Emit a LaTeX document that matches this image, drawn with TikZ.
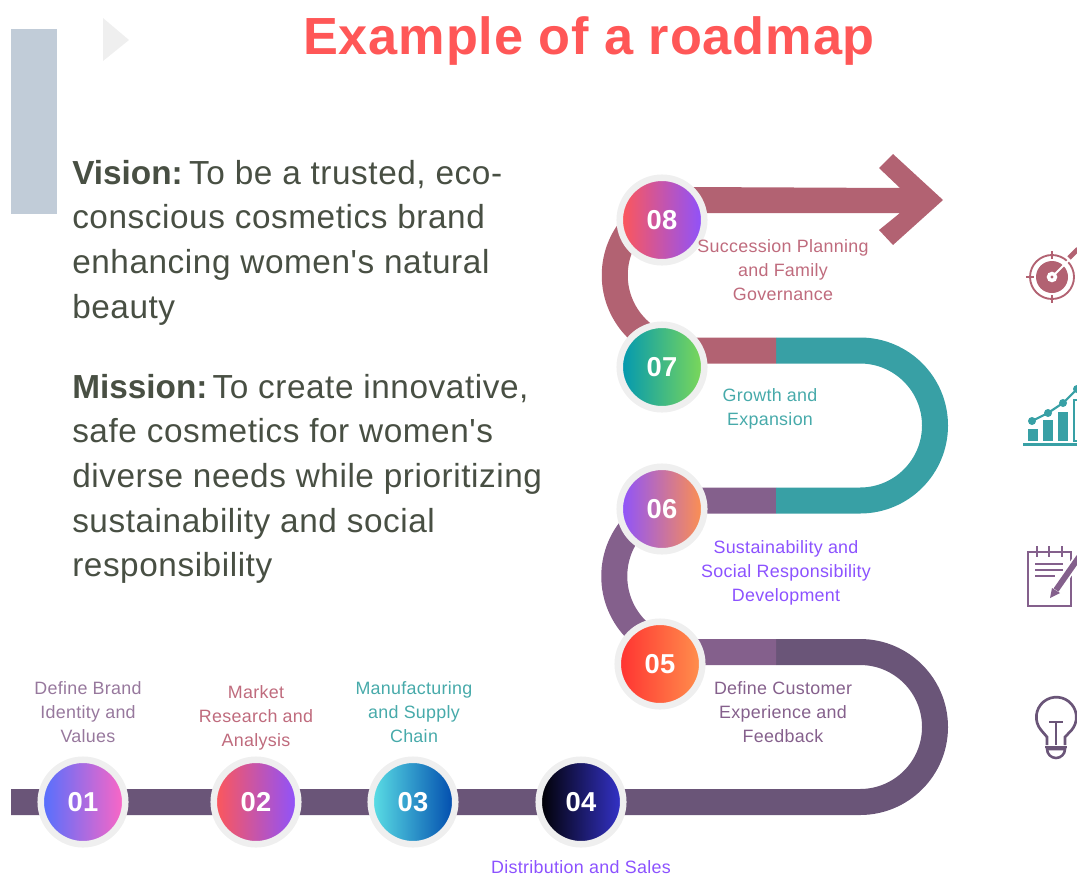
\documentclass[tikz,border=0pt]{standalone}
\usepackage{fontspec}
\setmainfont[LetterSpace=1.7,Mapping=]{Liberation Sans}
\usepackage{tikz}
\usetikzlibrary{shapes.geometric, arrows, positioning, fit}
\definecolor{railplum}{HTML}{6A5578}
\definecolor{railmauve}{HTML}{84608C}
\definecolor{railrose}{HTML}{B26272}
\definecolor{railteal}{HTML}{38A0A5}
\definecolor{haloGray}{HTML}{EFEFEF}
\definecolor{bodyInk}{HTML}{484F43}
\definecolor{titleRed}{HTML}{FF5757}
\definecolor{barSlate}{HTML}{C1CCD8}
\definecolor{labelPurple}{HTML}{8C52FF}
\definecolor{labelPlum}{HTML}{85608C}
\definecolor{labelRose}{HTML}{BF6B7D}
\definecolor{labelTeal}{HTML}{47AAAA}
\definecolor{dotBlue}{HTML}{5170FF}
\definecolor{dotPink}{HTML}{FF66C4}
\definecolor{dotCyan}{HTML}{5CE1E6}
\definecolor{dotNavy}{HTML}{004AAD}
\definecolor{dotIndigo}{HTML}{3533CD}
\definecolor{dotRed}{HTML}{FF3131}
\definecolor{dotOrange}{HTML}{FF914D}
\definecolor{dotTeal}{HTML}{0097B2}
\definecolor{dotGreen}{HTML}{7ED957}
\newcommand{\leadword}[1]{\textbf{\addfontfeature{LetterSpace=0}#1}}
\tikzstyle{stepdot}   = [circle, minimum size=63.4pt, inner sep=0pt, draw=haloGray, line width=4.9pt, text=white, font=\fontsize{20.5}{20.5}\selectfont\bfseries]
\tikzstyle{steplabel} = [inner sep=0pt, align=center, font=\fontsize{13.4}{18}\selectfont]
\tikzstyle{bodytext}  = [inner sep=0pt, anchor=north west, align=left, text=bodyInk, font=\fontsize{25}{33.4}\selectfont]
\tikzstyle{rail}      = [line width=19.5pt]
\tikzstyle{icon}      = [line width=1.9pt]
\begin{document}
\begin{tikzpicture}[x=0.75pt, y=-0.75pt]
    \useasboundingbox (0,0) rectangle (1077,875);
    \clip (0,0) rectangle (1077,875);

    \fill [barSlate] (11,29) rectangle (57,214);
    \fill [haloGray] (103,18) -- (129,40) -- (103,61) -- cycle;
    \node (title) at (589,41) [text=titleRed, font=\fontsize{39.2}{39}\selectfont\bfseries] {Example of a roadmap};
    \node (vision) at (72,160) [bodytext] {\leadword{Vision:} \kern-5pt To be a trusted, eco-\\conscious cosmetics brand\\enhancing women's natural\\beauty};
    \node (mission) at (72,374) [bodytext] {\leadword{Mission:} \kern-6pt To create innovative,\\safe cosmetics for women's\\diverse needs while prioritizing\\sustainability and social\\responsibility};

    \coordinate (railstart) at (11,802);
    \coordinate (turn1) at (860,802);
    \coordinate (split5) at (776,652);
    \coordinate (turn3) at (690,652);
    \coordinate (split6) at (776,500.5);
    \coordinate (turn5) at (860,500.5);
    \coordinate (split7) at (776,350.5);
    \coordinate (turn7) at (690,350.5);

    \draw [rail, railplum] (railstart) -- (turn1) arc[start angle=-90, end angle=90, radius=56.25pt] -- (split5);
    \draw [rail, railmauve] (split5) -- (turn3) arc[start angle=270, end angle=90, radius=56.81pt] -- (split6);
    \draw [rail, railteal] (split6) -- (turn5) arc[start angle=-90, end angle=90, radius=56.25pt] -- (split7);
    \draw [rail, railrose] (split7) -- (turn7) arc[start angle=270, end angle=90, radius=56.44pt];
    \fill [railrose] (690,187) -- (900,188) -- (879,168) -- (893,154) -- (943,200) -- (893,245) -- (879,230) -- (900,213) -- (690,213) -- cycle;

    \node (s1) at (83,802)  [stepdot, left color=dotBlue, right color=dotPink] {01};
    \node (s2) at (256,802) [stepdot, left color=titleRed, right color=labelPurple] {02};
    \node (s3) at (413,802) [stepdot, left color=dotCyan, right color=dotNavy] {03};
    \node (s4) at (581,802) [stepdot, left color=black, right color=dotIndigo] {04};
    \node (s5) at (660,664) [stepdot, left color=dotRed, right color=dotOrange] {05};
    \node (s6) at (662,509) [stepdot, left color=labelPurple, right color=dotOrange] {06};
    \node (s7) at (662,367) [stepdot, left color=dotTeal, right color=dotGreen] {07};
    \node (s8) at (662,220) [stepdot, left color=titleRed, right color=labelPurple] {08};

    \node (l1) at (88,712)  [steplabel, text=labelPlum!85!white] {Define Brand\\Identity and\\Values};
    \node (l2) at (256,718) [steplabel, text=labelRose] {Market\\Research and\\Analysis};
    \node (l3) at (414,712) [steplabel, text=labelTeal] {Manufacturing\\and Supply\\Chain};
    \node (l4) at (581,867) [steplabel, text=labelPurple] {Distribution and Sales};
    \node (l5) at (783,712) [steplabel, text=labelPlum] {Define Customer\\Experience and\\Feedback};
    \node (l6) at (786,573) [steplabel, text=labelPurple] {Sustainability and\\Social Responsibility\\Development};
    \node (l7) at (770,409) [steplabel, text=labelTeal] {Growth and\\Expansion};
    \node (l8) at (783,270) [steplabel, text=labelRose] {Succession Planning\\and Family\\Governance};

    % target
    \draw [railrose, line width=1.4pt] (1052,277) circle (16.5pt);
    \draw [railrose, line width=1.1pt] (1026,277) -- (1034,277) (1052,251) -- (1052,259) (1052,295) -- (1052,303);
    \fill [railrose] (1052,277) circle (12pt);
    \fill [white] (1052,277) circle (4pt);
    \fill [railrose] (1052,277) circle (1.2pt);
    \draw [white, line width=1.5pt] (1054,275) -- (1070,259);
    \draw [railrose, line width=3.6pt] (1069,258) -- (1078,249);
    % chart
    \fill [railteal] (1023,443) rectangle (1077,446);
    \fill [railteal] (1028,429) rectangle (1038,441);
    \fill [railteal] (1043,420) rectangle (1053,441);
    \fill [railteal] (1058,412) rectangle (1068,441);
    \draw [railteal, line width=1.4pt] (1074,400) rectangle (1080,441);
    \draw [railteal, line width=1.6pt] (1032,421) -- (1048,413) -- (1063,403) -- (1077,389);
    \foreach \px/\py in {1032/421, 1048/413, 1063/403, 1077/389}
        \fill [railteal] (\px,\py) circle (3pt);
    % notepad
    \draw [railmauve, icon] (1028,552) rectangle (1071,606);
    \foreach \px in {1037,1049,1062}
        \draw [railmauve, icon] (\px,546) -- (\px,557);
    \draw [railmauve, line width=1.3pt] (1035,564) -- (1063,564) (1035,570) -- (1063,570) (1035,576) -- (1055,576);
    \draw [white, line width=7pt] (1056,590) -- (1079,557);
    \draw [railmauve, line width=4.4pt] (1056,590) -- (1079,557);
    \fill [railmauve] (1050,598) -- (1052,588) -- (1060,593) -- cycle;
    % bulb
    \draw [railplum, line width=2pt] (1047,745) -- (1047,737) -- (1041,730) arc[start angle=220, end angle=-40, radius=15pt] -- (1065,737) -- (1065,745);
    \draw [railplum, icon] (1049,722) -- (1063,722) (1056,722) -- (1056,745) (1045,747) -- (1067,747);
    \draw [railplum, icon] (1047,749) -- (1065,749) arc[start angle=0, end angle=-180, radius=6.75pt] -- cycle;
\end{tikzpicture}
\end{document}
